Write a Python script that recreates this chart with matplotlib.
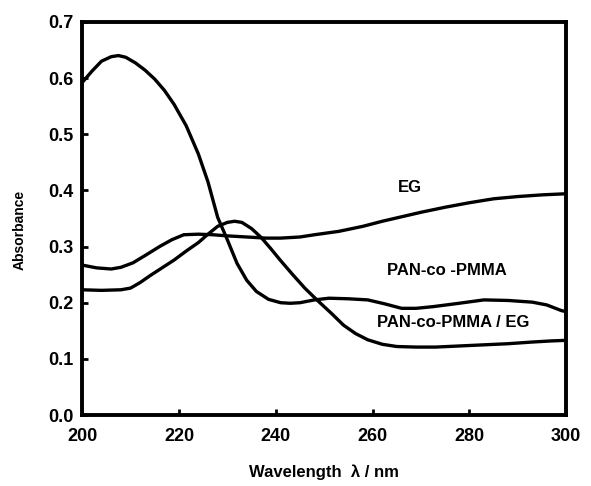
import matplotlib.pyplot as plt

plt.rcParams['font.family'] = ['Liberation Sans', 'DejaVu Sans']
plt.rcParams['font.weight'] = 'bold'

# PAN-co-PMMA (big peak near 207 nm)
wl_pan = [200, 202, 204, 206, 207.5, 209, 211, 213, 215, 217, 219, 221.5, 224, 226, 228, 230, 232, 234,
          236, 238.5, 241, 243, 245, 248, 251, 255, 259, 262.5, 266, 269, 272.5, 277, 283, 288, 293, 296, 299, 300]
abs_pan = [0.592, 0.612, 0.630, 0.638, 0.640, 0.637, 0.627, 0.614, 0.598, 0.578, 0.553, 0.515, 0.465, 0.415,
           0.352, 0.312, 0.270, 0.240, 0.220, 0.206, 0.200, 0.199, 0.200, 0.205, 0.208, 0.207, 0.205, 0.198,
           0.190, 0.190, 0.193, 0.198, 0.205, 0.204, 0.201, 0.196, 0.186, 0.184]

# EG
wl_eg = [200, 203, 206, 208, 210.5, 213, 216, 218.5, 221, 224, 227, 230, 234, 238, 241, 245, 248, 253,
         258, 262, 266, 270, 275, 280, 285, 290, 295, 300]
abs_eg = [0.267, 0.262, 0.260, 0.263, 0.271, 0.284, 0.300, 0.312, 0.321, 0.322, 0.321, 0.319, 0.317, 0.315,
          0.315, 0.317, 0.321, 0.327, 0.336, 0.345, 0.353, 0.361, 0.370, 0.378, 0.385, 0.389, 0.392, 0.394]

# PAN-co-PMMA / EG
wl_mix = [200, 204, 208, 210, 212, 214, 216.5, 219, 221.5, 224, 226, 228, 230, 231.5, 233, 235, 237,
          239, 241, 243.5, 246, 248.5, 251.5, 254, 256.5, 259, 262, 265, 269, 273, 278, 283, 288, 293, 297, 300]
abs_mix = [0.223, 0.222, 0.223, 0.226, 0.236, 0.248, 0.262, 0.276, 0.292, 0.307, 0.322, 0.336, 0.343, 0.345,
           0.343, 0.332, 0.316, 0.296, 0.275, 0.250, 0.226, 0.205, 0.181, 0.160, 0.145, 0.134, 0.126, 0.122,
           0.121, 0.121, 0.123, 0.125, 0.127, 0.130, 0.132, 0.133]

x_ticks = [200, 220, 240, 260, 280, 300]
y_ticks = [0.0, 0.1, 0.2, 0.3, 0.4, 0.5, 0.6, 0.7]

fig = plt.figure(figsize=(5.91, 4.86), dpi=100)
ax = fig.add_axes([0.139, 0.146, 0.819, 0.809])

ax.plot(wl_pan, abs_pan, color="black", lw=2.4)
ax.plot(wl_eg, abs_eg, color="black", lw=2.4)
ax.plot(wl_mix, abs_mix, color="black", lw=2.4)

ax.text(267.8, 0.406, "EG", fontsize=12, fontweight="bold", ha="center", va="center")
ax.text(275.4, 0.258, "PAN-co -PMMA", fontsize=12, fontweight="bold", ha="center", va="center")
ax.text(276.7, 0.164, "PAN-co-PMMA / EG", fontsize=12, fontweight="bold", ha="center", va="center")

ax.set_xlim(200, 300)
ax.set_ylim(0, 0.7)
ax.set_xticks(x_ticks)
ax.set_yticks(y_ticks)
ax.set_yticklabels(["%.1f" % v for v in y_ticks])
ax.tick_params(direction="in", length=4, width=2, labelsize=13, pad=6)
ax.tick_params(axis="x", pad=9)
for lab in ax.get_xticklabels() + ax.get_yticklabels():
    lab.set_fontweight("bold")
for s in ax.spines.values():
    s.set_linewidth(2.8)

ax.set_xlabel("Wavelength  \u03bb / nm", fontsize=12, fontweight="bold", labelpad=14)
ax.set_ylabel("Absorbance", fontsize=10, fontweight="bold", labelpad=18)
ax.yaxis.set_label_coords(-0.115, 0.47)

fig.savefig("out.png", dpi=100)
